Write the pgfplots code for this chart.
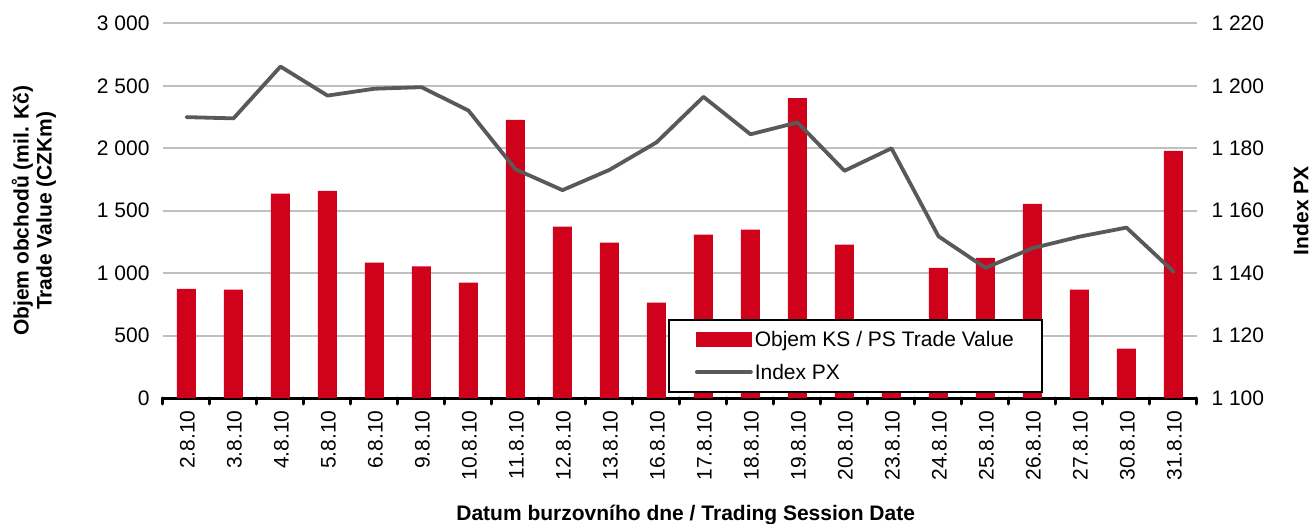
\documentclass[border=0pt]{standalone}
\usepackage{fontspec}
\setmainfont{Liberation Sans}
\usepackage{pgfplots}
\usepackage{pgfplotstable}
\pgfplotsset{compat=1.18}
\definecolor{barred}{HTML}{D0021B}
\definecolor{linegray}{HTML}{595959}
\definecolor{gridgray}{HTML}{C0C0C0}

\pgfplotstableread{
x vol px
0 875 1190.0
1 868 1189.6
2 1638 1206.2
3 1660 1196.9
4 1085 1199.1
5 1055 1199.6
6 925 1192.1
7 2227 1173.3
8 1372 1166.6
9 1245 1173.1
10 765 1181.9
11 1308 1196.5
12 1348 1184.5
13 2403 1188.3
14 1228 1172.8
15 590 1180.0
16 1043 1151.8
17 1123 1141.7
18 1556 1148.0
19 868 1151.7
20 395 1154.6
21 1980 1140.5
}\data

\newcommand{\tfont}{\fontsize{21}{24}\selectfont}
\newcommand{\lfont}{\fontsize{21}{23}\selectfont\bfseries}

\begin{document}
\begin{tikzpicture}
\begin{axis}[
  name=ax,
  scale only axis,
  width=1034pt, height=374.5pt,
  xmin=-0.5, xmax=21.5,
  ymin=0, ymax=3000,
  ytick={0,500,...,3000},
  xtick={0,...,21},
  xticklabels={2.8.10,3.8.10,4.8.10,5.8.10,6.8.10,9.8.10,10.8.10,11.8.10,12.8.10,13.8.10,16.8.10,17.8.10,18.8.10,19.8.10,20.8.10,23.8.10,24.8.10,25.8.10,26.8.10,27.8.10,30.8.10,31.8.10},
  minor xtick={-0.5,0.5,...,21.5},
  xtick align=outside,
  major tick length=0pt,
  minor tick length=6pt,
  minor x tick style={line width=3pt, black, line cap=round},
  axis x line*=bottom,
  axis y line*=left,
  x axis line style={-, line width=3pt, black},
  y axis line style={draw=none},
  ytick style={draw=none},
  ymajorgrids,
  major grid style={gridgray, line width=2pt},
  scaled y ticks=false,
  /pgf/number format/.cd, 1000 sep={\ }, assume math mode=true,
  /pgfplots/.cd,
  yticklabel style={font=\tfont, xshift=-10pt},
  xticklabel style={font=\tfont, rotate=90, anchor=east, yshift=-1pt, xshift=-9pt},
  xlabel={Datum burzovního dne / Trading Session Date},
  xlabel style={font=\lfont, at={(axis description cs:0.5055,-0.312)}, anchor=center},
  ylabel={Objem obchodů (mil. Kč)\\Trade Value (CZKm)},
  ylabel style={font=\lfont, align=center, at={(axis description cs:-0.1250,0.5)}, anchor=center},
]
\addplot[ybar, bar width=19pt, fill=barred, draw=none] table[x=x, y=vol]{\data};
\end{axis}
\begin{axis}[
  scale only axis,
  width=1034pt, height=374.5pt,
  xmin=-0.5, xmax=21.5,
  ymin=1100, ymax=1220,
  ytick={1100,1120,...,1220},
  axis x line=none,
  axis y line*=right,
  y axis line style={draw=none},
  ytick style={draw=none},
  scaled y ticks=false,
  /pgf/number format/.cd, 1000 sep={\ }, assume math mode=true,
  /pgfplots/.cd,
  yticklabel style={font=\tfont, xshift=11pt},
  ylabel={Index PX},
  ylabel style={font=\lfont, at={(axis description cs:1.1005,0.5)}, anchor=center},
  legend style={at={(axis description cs:0.4884,0.2107)}, anchor=north west, draw=black, line width=2pt, fill=white, font=\tfont, inner xsep=26pt, inner ysep=9pt, row sep=12pt},
  legend cell align=left,
]
\addlegendimage{legend image code/.code={\fill[barred] (0pt,-6.5pt) rectangle (54pt,6.5pt);}}
\addlegendentry{Objem KS / PS Trade Value}
\addplot[linegray, line width=3.8pt, line join=round, line cap=round,
  legend image code/.code={\draw[linegray, line width=3.8pt, line cap=round] (0pt,0pt) -- (54pt,0pt);}]
  table[x=x, y=px]{\data};
\addlegendentry{Index PX}
\end{axis}
\pgfresetboundingbox
\path[use as bounding box] ([xshift=-163pt,yshift=-126pt]ax.south west) rectangle ([xshift=1148pt,yshift=398pt]ax.south west);
\end{tikzpicture}
\end{document}
